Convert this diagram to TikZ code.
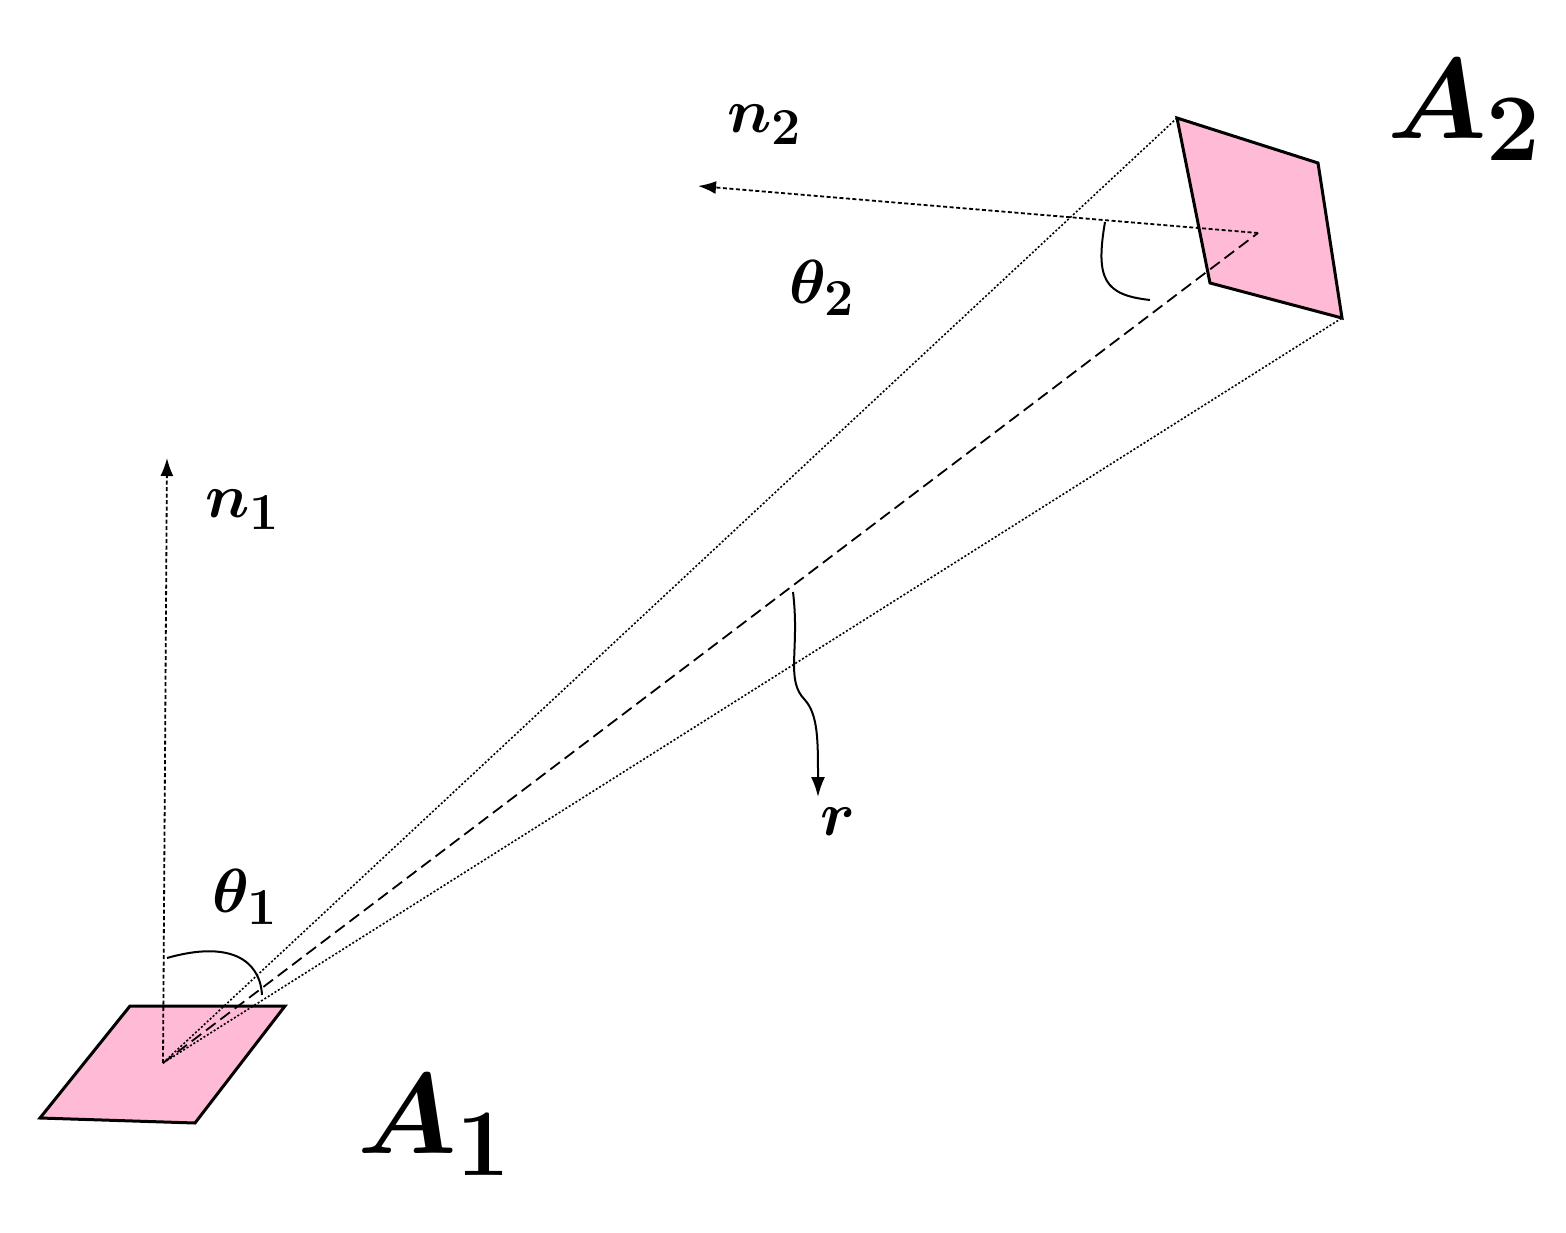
\documentclass[tikz,border=0pt]{standalone}
\usepackage{amsmath,bm}
\usetikzlibrary{arrows.meta}
\definecolor{pinkA}{RGB}{255,187,214}
\begin{document}
\begin{tikzpicture}[x=1pt,y=-1pt,
  dotl/.style={dash pattern=on 2pt off 2pt, line width=1.6pt},
  dashl/.style={dash pattern=on 12pt off 6pt, line width=1.8pt},
  normal/.style={dash pattern=on 4pt off 2.5pt, line width=1.8pt, -{Latex[length=18pt,width=13pt]}},
  plate/.style={fill=pinkA, draw=black, line width=3pt, line join=miter},
  arc/.style={line width=2pt},
  lab/.style={inner sep=0pt, font=\Huge, scale=2.5},
  big/.style={inner sep=0pt, font=\Huge, scale=4.6}]
\useasboundingbox (0,0) rectangle (1566,1233);
\coordinate (c1) at (163,1063);
\coordinate (c2) at (1258,233);
\coordinate (t2) at (1177,118);
\coordinate (b2) at (1342,318);
\draw[plate] (40,1118) -- (130,1006) -- (285,1006) -- (195,1123) -- cycle;
\draw[plate] (1177,118) -- (1318,163) -- (1342,318) -- (1210,283) -- cycle;
\draw[dotl] (c1) -- (t2);
\draw[dotl] (c1) -- (b2);
\draw[dashl] (c1) -- (c2);
\coordinate (n2e) at (698,186);
\coordinate (n1e) at (167,458);
\draw[normal] (c2) -- (n2e);
\draw[normal] (c1) -- (n1e);
\draw[arc] (1105,222) .. controls (1095,280) and (1105,295) .. (1150,300);
\draw[arc] (167,958) .. controls (230,940) and (260,960) .. (262,995);
\coordinate (rs) at (793,592);
\coordinate (re) at (818,797);
\draw[arc,-{Latex[length=20pt,width=14pt]}] (rs) .. controls (800,650) and (785,680) .. (805,700) .. controls (818,715) and (818,740) .. (re);
\node[lab] (n2) at (765,125) {$\bm{n}_{\mathbf{2}}$};
\node[lab] (th2) at (822,288) {$\bm{\theta}_{\mathbf{2}}$};
\node[lab] (n1) at (243,510) {$\bm{n}_{\mathbf{1}}$};
\node[lab] (th1) at (245,897) {$\bm{\theta}_{\mathbf{1}}$};
\node[lab] (r) at (838,822) {$\bm{r}$};
\node[big] (A1) at (435,1125) {$\bm{A}_{\mathbf{1}}$};
\node[big] (A2) at (1465,110) {$\bm{A}_{\mathbf{2}}$};
\end{tikzpicture}
\end{document}
